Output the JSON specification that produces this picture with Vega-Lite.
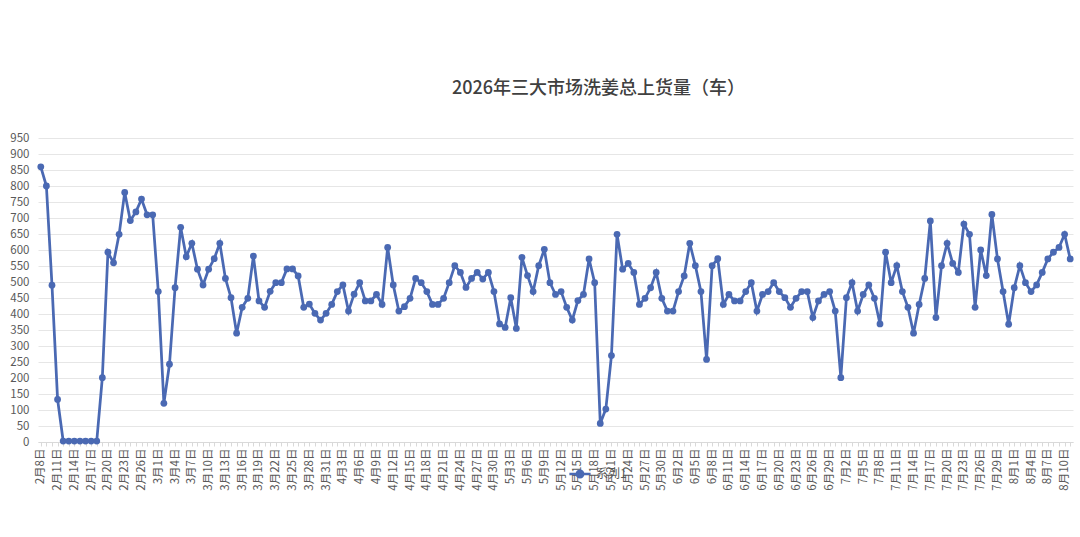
{
  "$schema": "https://vega.github.io/schema/vega-lite/v6.json",
  "width": 1035,
  "height": 304,
  "autosize": {"type": "none"},
  "padding": {"left": 38, "top": 138, "right": 7, "bottom": 95},
  "background": "#ffffff",
  "title": {
    "text": "2026年三大市场洗姜总上货量（车）",
    "font": "Noto Sans CJK SC",
    "fontSize": 18,
    "fontWeight": 500,
    "color": "#404040",
    "anchor": "middle",
    "frame": "group",
    "offset": 34,
    "dx": 43
  },
  "config": {"view": {"stroke": null}, "font": "Noto Sans CJK SC"},
  "data": {
    "values": [
      {"day": "2月8日", "trucks": 860}, {"day": "2月9日", "trucks": 800}, {"day": "2月10日", "trucks": 490},
      {"day": "2月11日", "trucks": 133}, {"day": "2月12日", "trucks": 3}, {"day": "2月13日", "trucks": 3},
      {"day": "2月14日", "trucks": 3}, {"day": "2月15日", "trucks": 3}, {"day": "2月16日", "trucks": 3},
      {"day": "2月17日", "trucks": 3}, {"day": "2月18日", "trucks": 3}, {"day": "2月19日", "trucks": 201},
      {"day": "2月20日", "trucks": 593}, {"day": "2月21日", "trucks": 560}, {"day": "2月22日", "trucks": 649},
      {"day": "2月23日", "trucks": 780}, {"day": "2月24日", "trucks": 692}, {"day": "2月25日", "trucks": 719},
      {"day": "2月26日", "trucks": 759}, {"day": "2月27日", "trucks": 710}, {"day": "2月28日", "trucks": 710},
      {"day": "3月1日", "trucks": 470}, {"day": "3月2日", "trucks": 121}, {"day": "3月3日", "trucks": 243},
      {"day": "3月4日", "trucks": 482}, {"day": "3月5日", "trucks": 671}, {"day": "3月6日", "trucks": 579},
      {"day": "3月7日", "trucks": 621}, {"day": "3月8日", "trucks": 540}, {"day": "3月9日", "trucks": 491},
      {"day": "3月10日", "trucks": 540}, {"day": "3月11日", "trucks": 573}, {"day": "3月12日", "trucks": 621},
      {"day": "3月13日", "trucks": 511}, {"day": "3月14日", "trucks": 451}, {"day": "3月15日", "trucks": 340},
      {"day": "3月16日", "trucks": 421}, {"day": "3月17日", "trucks": 449}, {"day": "3月18日", "trucks": 581},
      {"day": "3月19日", "trucks": 441}, {"day": "3月20日", "trucks": 421}, {"day": "3月21日", "trucks": 471},
      {"day": "3月22日", "trucks": 498}, {"day": "3月23日", "trucks": 498}, {"day": "3月24日", "trucks": 541},
      {"day": "3月25日", "trucks": 541}, {"day": "3月26日", "trucks": 519}, {"day": "3月27日", "trucks": 421},
      {"day": "3月28日", "trucks": 431}, {"day": "3月29日", "trucks": 402}, {"day": "3月30日", "trucks": 381},
      {"day": "3月31日", "trucks": 402},
      {"day": "4月1日", "trucks": 430}, {"day": "4月2日", "trucks": 470}, {"day": "4月3日", "trucks": 491},
      {"day": "4月4日", "trucks": 409}, {"day": "4月5日", "trucks": 462}, {"day": "4月6日", "trucks": 498},
      {"day": "4月7日", "trucks": 441}, {"day": "4月8日", "trucks": 441}, {"day": "4月9日", "trucks": 461},
      {"day": "4月10日", "trucks": 430}, {"day": "4月11日", "trucks": 608}, {"day": "4月12日", "trucks": 491},
      {"day": "4月13日", "trucks": 409}, {"day": "4月14日", "trucks": 423}, {"day": "4月15日", "trucks": 449},
      {"day": "4月16日", "trucks": 511}, {"day": "4月17日", "trucks": 498}, {"day": "4月18日", "trucks": 470},
      {"day": "4月19日", "trucks": 430}, {"day": "4月20日", "trucks": 430}, {"day": "4月21日", "trucks": 449},
      {"day": "4月22日", "trucks": 498}, {"day": "4月23日", "trucks": 551}, {"day": "4月24日", "trucks": 530},
      {"day": "4月25日", "trucks": 483}, {"day": "4月26日", "trucks": 511}, {"day": "4月27日", "trucks": 530},
      {"day": "4月28日", "trucks": 509}, {"day": "4月29日", "trucks": 530}, {"day": "4月30日", "trucks": 470},
      {"day": "5月1日", "trucks": 369}, {"day": "5月2日", "trucks": 358}, {"day": "5月3日", "trucks": 451},
      {"day": "5月4日", "trucks": 355}, {"day": "5月5日", "trucks": 577}, {"day": "5月6日", "trucks": 520},
      {"day": "5月7日", "trucks": 470}, {"day": "5月8日", "trucks": 551}, {"day": "5月9日", "trucks": 602},
      {"day": "5月10日", "trucks": 498}, {"day": "5月11日", "trucks": 461}, {"day": "5月12日", "trucks": 470},
      {"day": "5月13日", "trucks": 421}, {"day": "5月14日", "trucks": 381}, {"day": "5月15日", "trucks": 442},
      {"day": "5月16日", "trucks": 461}, {"day": "5月17日", "trucks": 572}, {"day": "5月18日", "trucks": 498},
      {"day": "5月19日", "trucks": 58}, {"day": "5月20日", "trucks": 103}, {"day": "5月21日", "trucks": 270},
      {"day": "5月22日", "trucks": 649}, {"day": "5月23日", "trucks": 540}, {"day": "5月24日", "trucks": 558},
      {"day": "5月25日", "trucks": 530}, {"day": "5月26日", "trucks": 430}, {"day": "5月27日", "trucks": 449},
      {"day": "5月28日", "trucks": 482}, {"day": "5月29日", "trucks": 530}, {"day": "5月30日", "trucks": 449},
      {"day": "5月31日", "trucks": 409},
      {"day": "6月1日", "trucks": 409}, {"day": "6月2日", "trucks": 470}, {"day": "6月3日", "trucks": 519},
      {"day": "6月4日", "trucks": 621}, {"day": "6月5日", "trucks": 551}, {"day": "6月6日", "trucks": 470},
      {"day": "6月7日", "trucks": 258}, {"day": "6月8日", "trucks": 551}, {"day": "6月9日", "trucks": 573},
      {"day": "6月10日", "trucks": 430}, {"day": "6月11日", "trucks": 461}, {"day": "6月12日", "trucks": 441},
      {"day": "6月13日", "trucks": 441}, {"day": "6月14日", "trucks": 470}, {"day": "6月15日", "trucks": 498},
      {"day": "6月16日", "trucks": 409}, {"day": "6月17日", "trucks": 461}, {"day": "6月18日", "trucks": 470},
      {"day": "6月19日", "trucks": 498}, {"day": "6月20日", "trucks": 470}, {"day": "6月21日", "trucks": 451},
      {"day": "6月22日", "trucks": 421}, {"day": "6月23日", "trucks": 449}, {"day": "6月24日", "trucks": 470},
      {"day": "6月25日", "trucks": 470}, {"day": "6月26日", "trucks": 389}, {"day": "6月27日", "trucks": 441},
      {"day": "6月28日", "trucks": 461}, {"day": "6月29日", "trucks": 470}, {"day": "6月30日", "trucks": 409},
      {"day": "7月1日", "trucks": 201}, {"day": "7月2日", "trucks": 451}, {"day": "7月3日", "trucks": 498},
      {"day": "7月4日", "trucks": 409}, {"day": "7月5日", "trucks": 461}, {"day": "7月6日", "trucks": 491},
      {"day": "7月7日", "trucks": 449}, {"day": "7月8日", "trucks": 369}, {"day": "7月9日", "trucks": 593},
      {"day": "7月10日", "trucks": 498}, {"day": "7月11日", "trucks": 551}, {"day": "7月12日", "trucks": 470},
      {"day": "7月13日", "trucks": 421}, {"day": "7月14日", "trucks": 340}, {"day": "7月15日", "trucks": 430},
      {"day": "7月16日", "trucks": 511}, {"day": "7月17日", "trucks": 691}, {"day": "7月18日", "trucks": 389},
      {"day": "7月19日", "trucks": 551}, {"day": "7月20日", "trucks": 621}, {"day": "7月21日", "trucks": 558},
      {"day": "7月22日", "trucks": 530}, {"day": "7月23日", "trucks": 681}, {"day": "7月24日", "trucks": 649},
      {"day": "7月25日", "trucks": 421}, {"day": "7月26日", "trucks": 600}, {"day": "7月27日", "trucks": 520},
      {"day": "7月28日", "trucks": 711}, {"day": "7月29日", "trucks": 572}, {"day": "7月30日", "trucks": 470},
      {"day": "7月31日", "trucks": 368},
      {"day": "8月1日", "trucks": 482}, {"day": "8月2日", "trucks": 551}, {"day": "8月3日", "trucks": 498},
      {"day": "8月4日", "trucks": 470}, {"day": "8月5日", "trucks": 491}, {"day": "8月6日", "trucks": 530},
      {"day": "8月7日", "trucks": 572}, {"day": "8月8日", "trucks": 593}, {"day": "8月9日", "trucks": 608},
      {"day": "8月10日", "trucks": 649}, {"day": "8月11日", "trucks": 572}
    ]
  },
  "encoding": {
    "x": {
      "field": "day",
      "type": "ordinal",
      "sort": null,
      "axis": {
        "title": null,
        "labelAngle": 270,
        "labelFontSize": 11.5,
        "labelColor": "#595959",
        "labelPadding": 2,
        "labelOverlap": false,
        "labelExpr": "(utc(2026, toNumber(split(datum.value, '月')[0]) - 1, toNumber(replace(split(datum.value, '月')[1], '日', ''))) - utc(2026, 1, 8)) / 86400000 % 3 == 0 ? datum.value : ''",
        "tickSize": 4,
        "tickColor": "#d9d9d9",
        "domainColor": "#d9d9d9",
        "grid": false
      }
    },
    "y": {
      "field": "trucks",
      "type": "quantitative",
      "scale": {"domain": [0, 950], "nice": false},
      "axis": {
        "title": null,
        "values": [0, 50, 100, 150, 200, 250, 300, 350, 400, 450, 500, 550, 600, 650, 700, 750, 800, 850, 900, 950],
        "domain": false,
        "ticks": false,
        "labelPadding": 9,
        "labelFontSize": 11.5,
        "labelColor": "#595959",
        "gridColor": "#e6e6e6"
      }
    }
  },
  "layer": [
    {
      "mark": {"type": "line", "strokeWidth": 2.75, "color": "#4a69b3"}
    },
    {
      "mark": {"type": "circle", "size": 46, "opacity": 1},
      "encoding": {
        "color": {
          "datum": "系列1",
          "scale": {"range": ["#4a69b3"]},
          "legend": {
            "orient": "none",
            "legendX": 530,
            "legendY": 324,
            "title": null,
            "labelFontSize": 12,
            "labelColor": "#595959",
            "symbolType": "M-1,0H-0.3M0.3,0H1M-0.3,0A0.3,0.3,0,1,1,0.3,0A0.3,0.3,0,1,1,-0.3,0",
            "symbolSize": 450,
            "symbolStrokeColor": "#4a69b3",
            "symbolStrokeWidth": 2.5,
            "symbolFillColor": "#4a69b3"
          }
        }
      }
    }
  ]
}
